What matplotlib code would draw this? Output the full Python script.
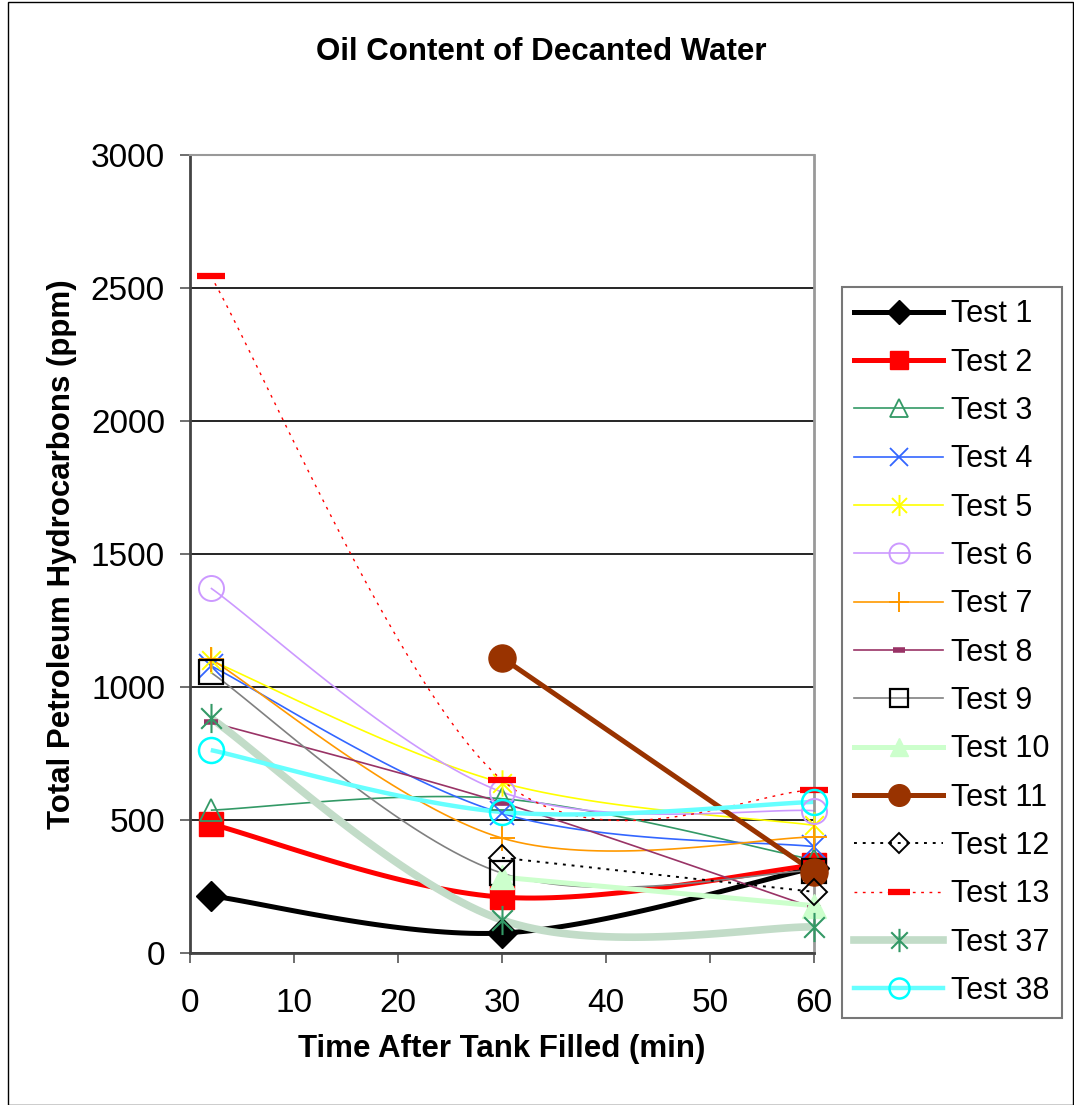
import numpy as np
import matplotlib
matplotlib.use("Agg")
import matplotlib.pyplot as plt
from matplotlib.lines import Line2D
from matplotlib.path import Path

plt.rcParams['font.family'] = ['Liberation Sans', 'DejaVu Sans']

# time after tank filled (min)
t_all = [2, 30, 60]
t_late = [30, 60]

# TPH values (ppm)
test1 = [215, 75, 320]
test2 = [485, 210, 330]
test3 = [537, 580, 350]
test4 = [1080, 525, 400]
test5 = [1100, 640, 480]
test6 = [1372, 605, 535]
test7 = [1105, 432, 436]
test8 = [868, 565, 170]
test9 = [1055, 300, 310]
test10 = [285, 178]
test11 = [1110, 305]
test12 = [358, 230]
test13 = [2545, 650, 612]
test37 = [883, 124, 98]
test38 = [763, 530, 568]

labels = ["Test 1", "Test 2", "Test 3", "Test 4", "Test 5", "Test 6", "Test 7",
          "Test 8", "Test 9", "Test 10", "Test 11", "Test 12", "Test 13",
          "Test 37", "Test 38"]

# excel style asterisk: vertical bar plus an x
d = 0.7071
star = Path([(0, -1), (0, 1), (-d, -d), (d, d), (-d, d), (d, -d)],
            [Path.MOVETO, Path.LINETO, Path.MOVETO, Path.LINETO, Path.MOVETO, Path.LINETO])

# (x, y, line colour, line width, line style, marker, marker size, marker face, marker edge, marker edge width)
series = [
    (t_all, test1, "black", 3.6, "-", "D", 15, "black", "black", 1),
    (t_all, test2, "#FF0000", 3.6, "-", "s", 17, "#FF0000", "#FF0000", 1),
    (t_all, test3, "#339966", 1.2, "-", "^", 16, "none", "#339966", 1.3),
    (t_all, test4, "#3366FF", 1.2, "-", "x", 17, "none", "#3366FF", 1.3),
    (t_all, test5, "#FFFF00", 1.2, "-", star, 19, "none", "#FFFF00", 1.4),
    (t_all, test6, "#CC99FF", 1.2, "-", "o", 18, "none", "#CC99FF", 1.4),
    (t_all, test7, "#FF9900", 1.2, "-", "+", 18, "none", "#FF9900", 1.4),
    (t_all, test8, "#993366", 1.2, "-", "_", 10, "none", "#993366", 4),
    (t_all, test9, "#808080", 1.2, "-", "s", 17, "none", "black", 1.6),
    (t_late, test10, "#CCFFCC", 3.6, "-", "^", 17, "#CCFFCC", "#CCFFCC", 1),
    (t_late, test11, "#993300", 3.6, "-", "o", 19.5, "#993300", "#993300", 1),
    (t_late, test12, "black", 1.4, (0, (1.5, 3)), "D", 13, "none", "black", 1.4),
    (t_all, test13, "#FF0000", 1.0, (0, (2, 4)), "_", 20, "none", "#FF0000", 4.5),
    (t_all, test37, "#C2DCC8", 5.5, "-", star, 21, "none", "#339966", 1.5),
    (t_all, test38, "#66FFFF", 3.2, "-", "o", 18, "none", "#00FFFF", 1.8),
]


def smooth(x, y, n=40):
    # Excel-style smoothed line: cubic bezier with Catmull-Rom control points
    x = np.asarray(x, float)
    y = np.asarray(y, float)
    if len(x) < 3:
        return x, y
    px = np.concatenate([[x[0]], x, [x[-1]]])
    py = np.concatenate([[y[0]], y, [y[-1]]])
    xs, ys = [], []
    s = np.linspace(0, 1, n)
    for i in range(1, len(px) - 2):
        p0 = np.array([px[i], py[i]])
        p3 = np.array([px[i + 1], py[i + 1]])
        c1 = p0 + (np.array([px[i + 1], py[i + 1]]) - np.array([px[i - 1], py[i - 1]])) / 6
        c2 = p3 - (np.array([px[i + 2], py[i + 2]]) - np.array([px[i], py[i]])) / 6
        b = ((1 - s)[:, None] ** 3 * p0 + 3 * ((1 - s) ** 2 * s)[:, None] * c1
             + 3 * ((1 - s) * s ** 2)[:, None] * c2 + (s ** 3)[:, None] * p3)
        xs.extend(b[:, 0])
        ys.extend(b[:, 1])
    return np.array(xs), np.array(ys)


fig = plt.figure(figsize=(10.74, 11.05), dpi=100)
ax = fig.add_axes([190 / 1074, 1 - 953 / 1105, 624 / 1074, 798 / 1105])

handles = []
for (x, y, lc, lw, ls, mk, ms, mf, me, mew), lab in zip(series, labels):
    sx, sy = smooth(x, y)
    ax.plot(sx, sy, color=lc, lw=lw, ls=ls, solid_capstyle="butt", zorder=2)
    ax.plot(x, y, ls="none", marker=mk, ms=ms, mfc=mf, mec=me, mew=mew, zorder=3, clip_on=False)
    handles.append(Line2D([0], [0], color=lc, lw=lw, ls=ls, marker=mk,
                          ms=ms * 0.8, mfc=mf, mec=me, mew=mew))

ax.set_xlim(0, 60)
ax.set_ylim(0, 3000)
ax.set_xticks(range(0, 61, 10))
ax.set_yticks(range(0, 3001, 500))
ax.yaxis.grid(True, color="black", lw=1.2)
ax.set_axisbelow(True)
ax.tick_params(labelsize=24, direction="out", length=7, width=1.2, color="#555555")
ax.tick_params(axis="x", pad=18)
ax.tick_params(axis="y", pad=11)
for side in ["left", "bottom"]:
    ax.spines[side].set_color("#444444")
    ax.spines[side].set_linewidth(2)
ax.spines["top"].set_color("#999999")
ax.spines["top"].set_linewidth(1.5)
ax.spines["right"].set_color("#999999")
ax.spines["right"].set_linewidth(2)

ax.set_xlabel("Time After Tank Filled (min)", fontsize=22.5, fontweight="bold", labelpad=11)
ax.set_ylabel("Total Petroleum Hydrocarbons (ppm)", fontsize=22.5, fontweight="bold", labelpad=10)
fig.text(541 / 1074, 1 - 52 / 1105, "Oil Content of Decanted Water", ha="center", va="center",
         fontsize=22.5, fontweight="bold")

leg = fig.legend(handles, labels, loc="upper left", bbox_to_anchor=(842 / 1074, 1 - 287 / 1105),
                 fontsize=22, frameon=True, fancybox=False, edgecolor="#555555",
                 handlelength=2.9, labelspacing=0.6, borderpad=0.4, handletextpad=0.27,
                 borderaxespad=0)
leg.get_frame().set_linewidth(1.5)

fig.patches.append(plt.Rectangle((8 / 1074, 0), 1 - 9 / 1074, 1 - 2 / 1105, transform=fig.transFigure,
                                 fill=False, edgecolor="black", lw=1))

fig.savefig("out.png", dpi=100)
